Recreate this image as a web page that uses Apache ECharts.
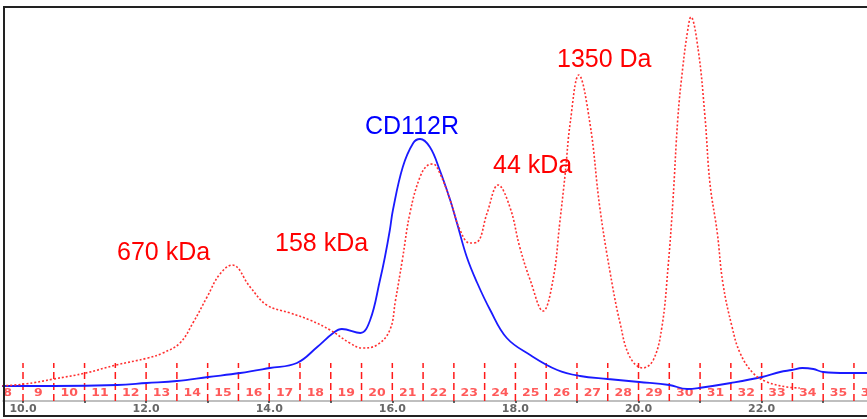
<!DOCTYPE html>
<html>
<head>
<meta charset="utf-8">
<script src="https://cdn.jsdelivr.net/npm/echarts@6/dist/echarts.min.js"></script>
<style>html,body{margin:0;padding:0;background:#fff}#c{width:867px;height:419px}</style>
</head>
<body>
<div id="c"></div>
<script>
// Elution volume (mL) and absorbance (relative units)
var standardsVolume = [9.6,10.03,10.5,11.02,11.51,12.03,12.27,12.55,12.76,12.99,13.2,13.4,13.69,13.96,14.34,14.66,14.99,15.31,15.51,15.75,15.96,16.05,16.16,16.29,16.45,16.58,16.66,16.77,16.94,17.1,17.26,17.38,17.54,17.72,17.91,18.07,18.24,18.45,18.61,18.72,18.81,18.89,19.03,19.21,19.37,19.54,19.7,19.86,20.07,20.24,20.38,20.48,20.56,20.64,20.72,20.8,20.85,20.97,21.08,21.16,21.28,21.37,21.52,21.65,21.86,22.09,22.41,22.62];
var standardsSignal = [15,17,22,28,36,43,48,58,78,104,127,136,114,96,88,81,71,58,53,56,71,100,140,189,224,236,237,228,201,171,158,159,188,216,194,154,121,90,121,178,228,278,326,278,194,128,78,44,33,41,74,134,201,284,334,371,384,351,284,218,168,118,74,48,28,19,14,13];
var sampleVolume = [9.6,10.49,11.53,12.01,12.5,13.01,13.53,14.01,14.45,14.78,15.04,15.18,15.48,15.64,15.8,15.88,15.96,16.01,16.17,16.34,16.45,16.61,16.77,16.94,17.05,17.21,17.38,17.59,17.86,18.24,18.68,19.05,19.5,20.01,20.5,20.79,20.98,21.5,22.01,22.3,22.49,22.66,22.84,23.0,23.39,23.8];
var sampleSignal = [15,15,16,18,20,24,28,33,38,54,68,72,68,81,121,144,171,191,234,258,262,254,231,201,178,144,118,91,63,46,31,25,22,19,16,12,13,18,24,29,31,33,32,29,28,28];
var fractions = [8,9,10,11,12,13,14,15,16,17,18,19,20,21,22,23,24,25,26,27,28,29,30,31,32,33,34,35,36];
var fractionStart = 9.5;   // mL where fraction 8 begins
var fractionWidth = 0.5;   // mL per fraction
var tickValues = [10,11,12,13,14,15,16,17,18,19,20,21,22,23];
var labelValues = [10,12,14,16,18,20,22];
var peakLabels = ['670 kDa','158 kDa','CD112R','44 kDa','1350 Da'];

function pair(xs, ys){ return xs.map(function(x,i){ return [x, ys[i]]; }); }
var fracData = fractions.map(function(n,i){
  return [fractionStart + i*fractionWidth, n];
});

var chart = echarts.init(document.getElementById('c'), null, {renderer:'canvas'});
var labelPos = [
  {x:117, y:253, c:'#ff0000'},
  {x:275, y:244, c:'#ff0000'},
  {x:365, y:127, c:'#0000ff'},
  {x:493, y:166, c:'#ff0000'},
  {x:557, y:60,  c:'#ff0000'}
];
var graphics = [
  {type:'rect', shape:{x:4, y:7, width:880, height:409}, style:{fill:'none', stroke:'#222', lineWidth:2}, z:100}
];
peakLabels.forEach(function(t,i){
  graphics.push({type:'text', x:labelPos[i].x, y:labelPos[i].y, z:101,
    style:{text:t, fill:labelPos[i].c, font:'25px "Liberation Sans", Arial, sans-serif', textVerticalAlign:'middle', textAlign:'left'}});
});

chart.setOption({
  animation:false,
  backgroundColor:'#fff',
  grid:{left:3, right:0, top:7, bottom:18, containLabel:false},
  xAxis:{type:'value', min:9.675, max:23.712,
    axisLine:{show:true, lineStyle:{color:'#aaa', width:1.5}},
    axisTick:{show:true, length:2, customValues:tickValues, lineStyle:{color:'#333', width:1.5}},
    splitLine:{show:false},
    axisLabel:{margin:3, color:'#666', fontSize:11, fontWeight:'bold', fontFamily:'DejaVu Sans',
      customValues:labelValues,
      formatter:function(v){ return v.toFixed(1); }}
  },
  yAxis:{type:'value', min:0, max:394, show:false},
  graphic:graphics,
  series:[
    {type:'custom', name:'fractions', data:fracData, z:3, clip:false,
      renderItem:function(params, api){
        var x0 = api.value(0);
        var p1 = api.coord([x0, 0]);
        var p2 = api.coord([x0, 38]);
        var pc = api.coord([x0 + fractionWidth/2, 8]);
        return {type:'group', children:[
          {type:'line', shape:{x1:p1[0], y1:p1[1], x2:p2[0], y2:p2[1]},
            style:{stroke:'#ff1a1a', lineWidth:1.5, lineDash:[7,4]}},
          {type:'text', x:pc[0], y:pc[1], scaleX:1.25,
            style:{text:String(api.value(1)), fill:'#ff5a5a', font:'bold 10px "DejaVu Sans"', textAlign:'center', textVerticalAlign:'middle'}}
        ]};
      }
    },
    {type:'line', name:'CD112R', data:pair(sampleVolume, sampleSignal), smooth:0.4, symbol:'none', z:4,
      lineStyle:{color:'#1a1aff', width:1.8}},
    {type:'line', name:'Standards', data:pair(standardsVolume, standardsSignal), smooth:0.4, symbol:'none', z:5,
      lineStyle:{color:'#ff3030', width:1.6, type:[2,2]}}
  ]
});
</script>
</body>
</html>
